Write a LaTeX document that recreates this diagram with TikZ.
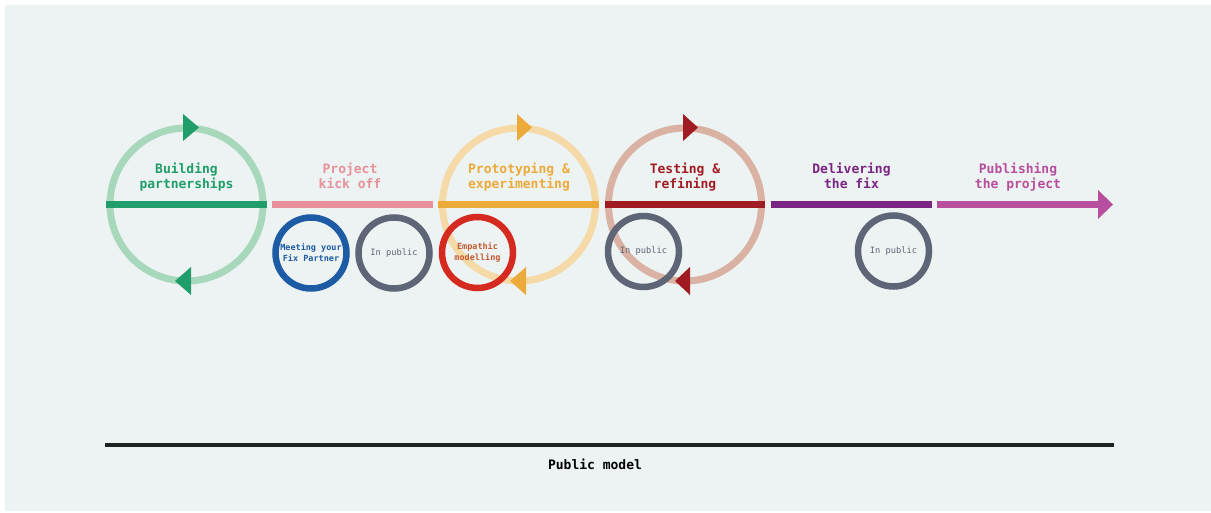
\documentclass[tikz,border=0pt]{standalone}
\usepackage{fontspec}
\usepackage{tikz}
\newfontfamily\labelfont{DejaVu Sans Mono}
\definecolor{pageink}{HTML}{EDF2F2}
\definecolor{greenink}{HTML}{1F9D6B}
\definecolor{greenlt}{HTML}{A8D8BC}
\definecolor{pinkink}{HTML}{E8909A}
\definecolor{orangeink}{HTML}{ECAA3A}
\definecolor{orangelt}{HTML}{F5D9A6}
\definecolor{redink}{HTML}{A01C22}
\definecolor{redlt}{HTML}{D9B2A3}
\definecolor{purpleink}{HTML}{7A2484}
\definecolor{magentaink}{HTML}{B84F9E}
\definecolor{blueink}{HTML}{1D5CA5}
\definecolor{greyink}{HTML}{5E6576}
\definecolor{ringred}{HTML}{D42A20}
\definecolor{empathink}{HTML}{C45A30}
\definecolor{baseink}{HTML}{1E2221}

\tikzset{
  phase/.style={font=\labelfont\bfseries\fontsize{13}{15.5}\selectfont, align=center},
  bar/.style={line width=7.5pt},
  cyclering/.style={line width=7pt},
  ring/.style={circle, draw, line width=6.5pt, minimum size=71pt, inner sep=0pt,
    align=center, font=\labelfont\fontsize{8.7}{11}\selectfont}
}

\begin{document}
\begin{tikzpicture}[x=1pt, y=-1pt]
  \useasboundingbox (0,0) rectangle (1211,513);
  \fill[pageink] (5,5) rectangle (1211,511);

  % cycle centres
  \coordinate (cbuild) at (186.5,204.5);
  \coordinate (cproto) at (519,204.5);
  \coordinate (ctest) at (685,204.5);

  % cycles
  \draw[cyclering, greenlt] (cbuild) circle (76.5pt);
  \draw[cyclering, orangelt] (cproto) circle (76.5pt);
  \draw[cyclering, redlt] (ctest) circle (76.5pt);

  % the timeline
  \draw[bar, greenink] (106,204.5) -- (267,204.5);
  \draw[bar, pinkink] (272,204.5) -- (433,204.5);
  \draw[bar, orangeink] (438,204.5) -- (599,204.5);
  \draw[bar, redink] (605,204.5) -- (765,204.5);
  \draw[bar, purpleink] (771,204.5) -- (932,204.5);
  \draw[bar, magentaink] (937,204.5) -- (1099,204.5);
  \fill[magentaink] (1098,190) -- (1113,204.5) -- (1098,219) -- cycle;

  % cycle arrow heads
  \fill[greenink] (183,114) -- (199,127.5) -- (183,141) -- cycle;
  \fill[greenink] (191,267) -- (175,281) -- (191,295) -- cycle;
  \fill[orangeink] (517,114) -- (532,127.5) -- (517,141) -- cycle;
  \fill[orangeink] (526,267) -- (510,281) -- (526,295) -- cycle;
  \fill[redink] (683,114) -- (698,127.5) -- (683,141) -- cycle;
  \fill[redink] (690,267) -- (675,281) -- (690,295) -- cycle;

  % phase labels
  \node[phase, text=greenink] (build) at (186.5,178) {Building\strut\\partnerships\strut};
  \node[phase, text=pinkink] (kick) at (350,178) {Project\strut\\kick off\strut};
  \node[phase, text=orangeink] (proto) at (519,178) {Prototyping \&\strut\\experimenting\strut};
  \node[phase, text=redink] (test) at (685,178) {Testing \&\strut\\refining\strut};
  \node[phase, text=purpleink] (deliver) at (851.5,178) {Delivering\strut\\the fix\strut};
  \node[phase, text=magentaink] (publish) at (1018,178) {Publishing\strut\\the project\strut};

  % rings
  \node[ring, draw=blueink, text=blueink, font=\labelfont\bfseries\fontsize{8.5}{11}\selectfont]
    (partner) at (311,253) {Meeting your\\Fix Partner};
  \node[ring, draw=greyink, text=greyink] (kickpub) at (394,253) {In public};
  \node[ring, draw=ringred, text=empathink, font=\labelfont\bfseries\fontsize{8.5}{11}\selectfont]
    (empath) at (477.5,252.5) {Empathic\\modelling};
  \node[ring, draw=greyink, text=greyink] (testpub) at (643.5,251.5) {In public};
  \node[ring, draw=greyink, text=greyink] (deliverpub) at (893.5,251) {In public};

  % public model
  \coordinate (mstart) at (105,445);
  \coordinate (mend) at (1114,445);
  \draw[line width=3.5pt, baseink] (mstart) -- (mend);
  \node[phase, text=black] (model) at (595,464) {Public model};
\end{tikzpicture}
\end{document}
